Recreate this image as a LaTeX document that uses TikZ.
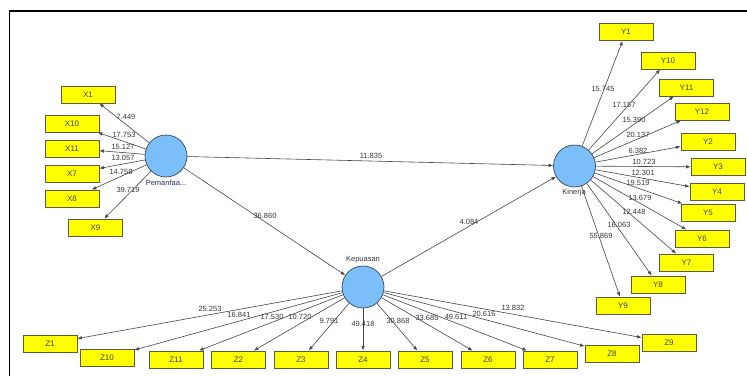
\documentclass[tikz,border=0pt]{standalone}
\usepackage{fontspec}
\setmainfont{Liberation Sans}
\usetikzlibrary{arrows.meta}
\definecolor{boxfill}{RGB}{255,255,0}
\definecolor{boxline}{RGB}{90,90,70}
\definecolor{cfill}{RGB}{122,190,250}
\definecolor{cline}{RGB}{60,70,90}
\definecolor{edgec}{RGB}{70,70,70}
\definecolor{labc}{RGB}{55,55,65}
\tikzset{
  ind/.style={draw=boxline, line width=0.9pt, fill=boxfill, minimum width=54pt, minimum height=17pt, inner sep=0pt, font=\fontsize{8}{9}\selectfont, text=black!75},
  lat/.style={circle, draw=cline, line width=0.7pt, fill=cfill, minimum size=42pt, inner sep=0pt},
  latlab/.style={font=\fontsize{7.5}{8}\selectfont, text=labc},
  conn/.style={draw=edgec, line width=0.6pt, -{Latex[length=4.5pt,width=3.6pt]}},
  val/.style={font=\fontsize{7.5}{8}\selectfont, text=labc, inner sep=0pt}
}
\begin{document}
\begin{tikzpicture}[x=1pt,y=-1pt]
\useasboundingbox (0,0) rectangle (747,376);
\fill[white] (0,0) rectangle (747,376);
\draw[line width=1.4pt] (747,11) -- (9.5,11) -- (9.5,376);
% latent variables
\node[lat] (P) at (166,156) {};
\node[lat] (K) at (574.5,166) {};
\node[lat] (Q) at (363,287) {};
\node[latlab, text=blue!25!labc] (Plab) at (166,183) {Pemanfaa...};
\node[latlab] (Klab) at (574,193) {Kinerja};
\node[latlab] (Qlab) at (363,260) {Kepuasan};
% X indicators
\node[ind] (X1) at (88,94.5) {X1};
\node[ind] (X10) at (72,123.5) {X10};
\node[ind] (X11) at (72,148.5) {X11};
\node[ind] (X7) at (72,173.5) {X7};
\node[ind] (X8) at (72,198.5) {X8};
\node[ind] (X9) at (95.5,227.5) {X9};
% Y indicators
\node[ind] (Y1) at (626,32) {Y1};
\node[ind] (Y10) at (668,60.5) {Y10};
\node[ind] (Y11) at (686.5,87.5) {Y11};
\node[ind] (Y12) at (702,111.5) {Y12};
\node[ind] (Y2) at (708,141.5) {Y2};
\node[ind] (Y3) at (718,167) {Y3};
\node[ind] (Y4) at (717,191.5) {Y4};
\node[ind] (Y5) at (708,212.5) {Y5};
\node[ind] (Y6) at (702,238.5) {Y6};
\node[ind] (Y7) at (686.5,262.5) {Y7};
\node[ind] (Y8) at (658,284.5) {Y8};
\node[ind] (Y9) at (623,305.5) {Y9};
% Z indicators
\node[ind] (Z1) at (50,343.5) {Z1};
\node[ind] (Z10) at (107,357.5) {Z10};
\node[ind] (Z11) at (176,359.5) {Z11};
\node[ind] (Z2) at (238.5,359.5) {Z2};
\node[ind] (Z3) at (301,359.5) {Z3};
\node[ind] (Z4) at (363,359.5) {Z4};
\node[ind] (Z5) at (425,359.5) {Z5};
\node[ind] (Z6) at (488,359.5) {Z6};
\node[ind] (Z7) at (550,359.5) {Z7};
\node[ind] (Z8) at (612,353.5) {Z8};
\node[ind] (Z9) at (669,342.5) {Z9};
% connectors
\foreach \t in {X1,X10,X11,X7,X8,X9} \draw[conn] (P) -- (\t);
\foreach \t in {Y1,Y10,Y11,Y12,Y2,Y3,Y4,Y5,Y6,Y7,Y8,Y9} \draw[conn] (K) -- (\t);
\foreach \t in {Z1,Z10,Z11,Z2,Z3,Z4,Z5,Z6,Z7,Z8,Z9} \draw[conn] (Q) -- (\t);
\draw[conn] (P) -- (K);
\draw[conn] (P) -- (Q);
\draw[conn] (Q) -- (K);
% values
\node[val] (vPK) at (371,156) {11.835};
\node[val] (vPQ) at (265,216) {36.860};
\node[val] (vQK) at (469,222) {4.084};
\node[val] (vX1) at (126,117) {7.449};
\node[val] (vX10) at (124,135) {17.753};
\node[val] (vX11) at (123,147) {15.127};
\node[val] (vX7) at (123,158) {13.057};
\node[val] (vX8) at (121,172) {14.758};
\node[val] (vX9) at (128,190) {39.719};
\node[val] (vY1) at (603,89) {15.745};
\node[val] (vY10) at (624,105) {17.157};
\node[val] (vY11) at (634,120) {15.390};
\node[val] (vY12) at (638,135) {20.137};
\node[val] (vY2) at (638,151) {6.382};
\node[val] (vY3) at (644,162) {10.723};
\node[val] (vY4) at (643,173) {12.301};
\node[val] (vY5) at (638,183) {19.519};
\node[val] (vY6) at (640,198) {13.679};
\node[val] (vY7) at (634,212) {12.448};
\node[val] (vY8) at (619,225) {16.063};
\node[val] (vY9) at (601,236) {55.869};
\node[val] (vZ1) at (210,309) {25.253};
\node[val] (vZ10) at (239,315) {16.841};
\node[val] (vZ11) at (272,317) {17.530};
\node[val] (vZ2) at (300,317) {10.720};
\node[val] (vZ3) at (329,321) {9.791};
\node[val] (vZ4) at (363,324) {49.418};
\node[val] (vZ5) at (398,321) {30.868};
\node[val] (vZ6) at (427,318) {33.685};
\node[val] (vZ7) at (456,317) {49.611};
\node[val] (vZ8) at (484,314) {20.616};
\node[val] (vZ9) at (513,308) {13.832};
\end{tikzpicture}
\end{document}
